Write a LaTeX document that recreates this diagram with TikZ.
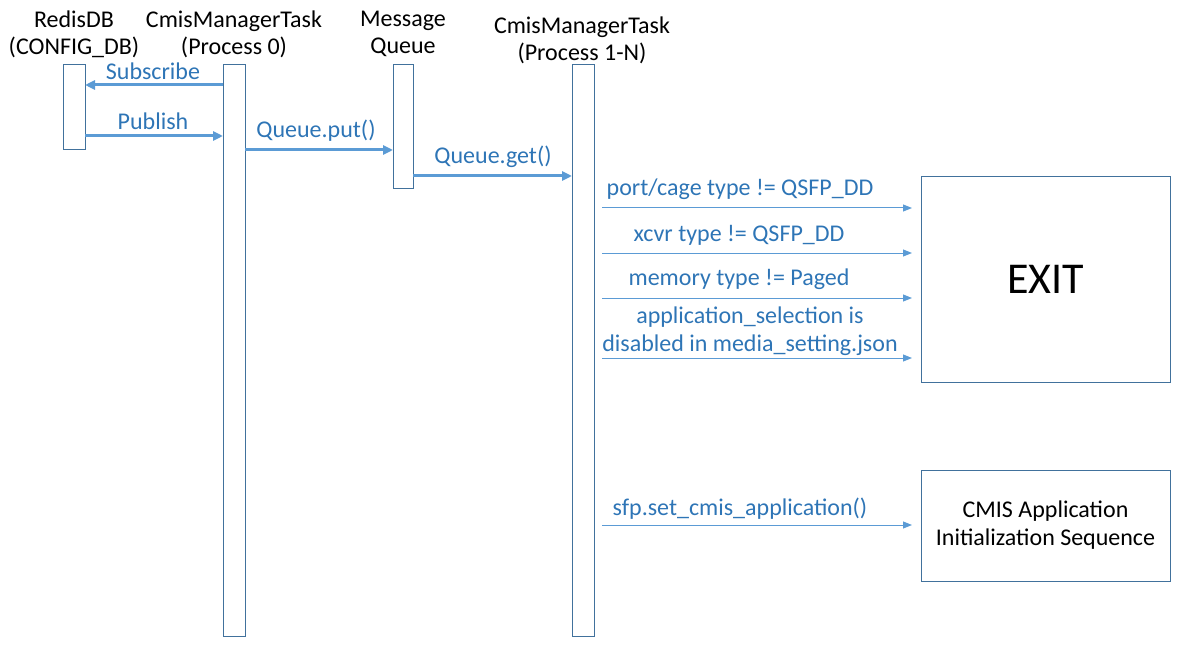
\documentclass[tikz,border=0pt]{standalone}
\usepackage{fontspec}
\setmainfont{Carlito}
\usetikzlibrary{arrows.meta}
\definecolor{lineblue}{HTML}{5B9BD5}
\definecolor{textblue}{HTML}{2E75B6}
\definecolor{boxblue}{HTML}{41719C}
\begin{document}
\begin{tikzpicture}[x=1pt,y=-1pt,
  lbl/.style={font=\fontsize{24}{27}\selectfont, text=black, align=center, inner sep=0pt},
  msg/.style={font=\fontsize{24}{28}\selectfont, text=textblue, align=center, inner sep=0pt},
  act/.style={draw=boxblue, line width=1pt, fill=white},
  thick arrow/.style={draw=lineblue, line width=3pt, -{Triangle[length=10pt,width=9pt]}},
  thin arrow/.style={draw=lineblue, line width=1pt, -{Triangle[length=9pt,width=7pt]}},
  bigbox/.style={draw=boxblue, line width=1pt, fill=white}]
\useasboundingbox (0,0) rectangle (1199,655);
% headers
\node[lbl] (hredis) at (74,34) {RedisDB\\(CONFIG\_DB)};
\node[lbl] (hp0) at (234,34) {CmisManagerTask\\(Process 0)};
\node[lbl] (hmq) at (403,34) {Message\\Queue};
\node[lbl] (hp1) at (582,40) {CmisManagerTask\\(Process 1-N)};
% activation bars
\draw[act] (63,65) rectangle (85,150);
\draw[act] (223,65) rectangle (245,636);
\draw[act] (393,65) rectangle (413,189);
\draw[act] (572,65) rectangle (594,636);
% coordinates
\coordinate (s1) at (223,85); \coordinate (s2) at (85,85);
\coordinate (p1) at (85,136); \coordinate (p2) at (223,136);
\coordinate (q1) at (245,150); \coordinate (q2) at (393,150);
\coordinate (g1) at (413,176); \coordinate (g2) at (572,176);
\draw[thick arrow] (s1) -- (s2);
\draw[thick arrow] (p1) -- (p2);
\draw[thick arrow] (q1) -- (q2);
\draw[thick arrow] (g1) -- (g2);
\node[msg] (ls) at (153,71) {Subscribe};
\node[msg] (lp) at (153,121) {Publish};
\node[msg] (lq) at (316,131) {Queue.put()};
\node[msg] (lg) at (493,157) {Queue.get()};
% boxes
\node[bigbox, minimum width=249pt, minimum height=205pt, font=\fontsize{44}{52}\selectfont] (exit) at (1045.5,279.5) {EXIT};
\node[bigbox, minimum width=249pt, minimum height=111pt, font=\fontsize{24}{28}\selectfont, align=center] (cmis) at (1045.5,525.5) {CMIS Application\\Initialization Sequence};
% thin arrows
\coordinate (a1) at (602,208); \coordinate (a1e) at (912,208);
\coordinate (a2) at (602,253); \coordinate (a2e) at (912,253);
\coordinate (a3) at (602,298); \coordinate (a3e) at (912,298);
\coordinate (a4) at (602,358); \coordinate (a4e) at (912,358);
\coordinate (a5) at (602,525); \coordinate (a5e) at (912,525);
\draw[thin arrow] (a1) -- (a1e);
\draw[thin arrow] (a2) -- (a2e);
\draw[thin arrow] (a3) -- (a3e);
\draw[thin arrow] (a4) -- (a4e);
\draw[thin arrow] (a5) -- (a5e);
\node[msg] (l1) at (740,189) {port/cage type != QSFP\_DD};
\node[msg] (l2) at (739,235) {xcvr type != QSFP\_DD};
\node[msg] (l3) at (739,279) {memory type != Paged};
\node[msg] (l4) at (750,331) {application\_selection is\\disabled in media\_setting.json};
\node[msg] (l5) at (740,509) {sfp.set\_cmis\_application()};
\end{tikzpicture}
\end{document}
